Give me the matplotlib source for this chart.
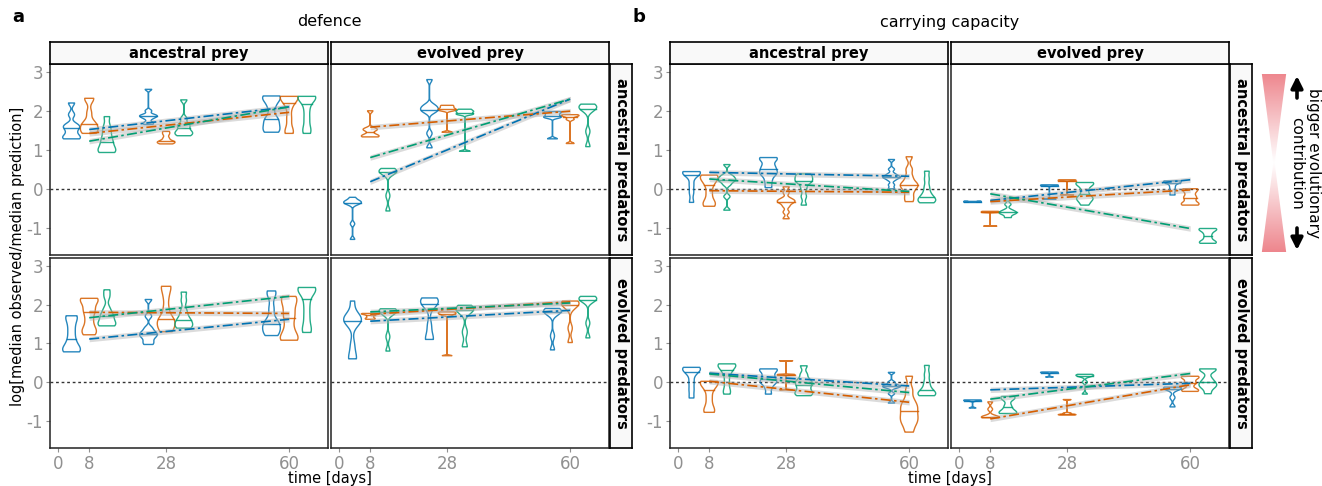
import numpy as np
import matplotlib.pyplot as plt
from matplotlib import cbook, mlab
from matplotlib.patches import Polygon
from matplotlib.colors import LinearSegmentedColormap

plt.rcParams['axes.unicode_minus'] = False

# strains: blue, orange, green ; sampling days
colours = ['#0072B2', '#D55E00', '#009E73']
times = [8, 28, 60]
dodge = [-4.6, 0, 4.6]
xticks = [0, 8, 28, 60]
yticks = [-1, 0, 1, 2, 3]

# violins, order: day8 (blue, orange, green), day28 (...), day60 (...)
# defence, ancestral prey, ancestral predators
def_ap_apred = [
    [2.2, 1.9, 1.65, 1.6, 1.55, 1.45, 1.35, 1.3, 1.28],
    [2.32, 2.3, 1.95, 1.7, 1.65, 1.6, 1.5, 1.45, 1.42],
    [1.85, 1.6, 1.45, 1.3, 1.2, 1.1, 1.0, 0.95, 0.93],
    [2.55, 2.0, 1.9, 1.87, 1.85, 1.8, 1.7, 1.65],
    [1.47, 1.4, 1.3, 1.22, 1.2, 1.18, 1.15],
    [2.28, 1.8, 1.65, 1.6, 1.5, 1.45, 1.4, 1.36],
    [2.38, 2.35, 2.3, 2.1, 1.8, 1.75, 1.6, 1.5, 1.45],
    [2.37, 2.36, 2.35, 2.3, 2.1, 1.8, 1.5, 1.42],
    [2.37, 2.36, 2.35, 2.28, 2.05, 1.8, 1.55, 1.42],
]
def_ap_apred_trend = [(1.52, 2.1), (1.42, 1.96), (1.22, 2.1)]

# defence, evolved prey, ancestral predators
def_ep_apred = [
    [-0.22, -0.3, -0.33, -0.35, -0.37, -0.4, -0.9, -1.3],
    [2.0, 1.55, 1.52, 1.5, 1.4, 1.36, 1.34, 1.33],
    [0.52, 0.47, 0.45, 0.42, 0.4, -0.18, -0.57],
    [2.8, 2.15, 2.1, 2.05, 2.0, 1.97, 1.42, 1.05],
    [2.14, 2.1, 2.06, 2.03, 2.0, 1.45],
    [2.04, 2.0, 1.97, 1.93, 1.9, 0.96],
    [1.98, 1.95, 1.9, 1.85, 1.82, 1.28],
    [1.9, 1.88, 1.85, 1.78, 1.16],
    [2.17, 2.13, 2.1, 2.05, 2.02, 1.47, 1.08],
]
def_ep_apred_trend = [(0.18, 2.3), (1.58, 1.99), (0.8, 2.3)]

# defence, ancestral prey, evolved predators
def_ap_epred = [
    [1.71, 1.68, 1.5, 1.3, 1.1, 0.95, 0.85, 0.8, 0.78],
    [2.16, 2.13, 2.1, 1.9, 1.8, 1.6, 1.4, 1.3, 1.22],
    [2.38, 2.2, 1.9, 1.75, 1.7, 1.6, 1.5, 1.48, 1.45],
    [2.13, 1.7, 1.4, 1.3, 1.25, 1.2, 1.15, 1.05, 0.97],
    [2.47, 2.45, 2.2, 1.9, 1.65, 1.6, 1.55, 1.45, 1.35, 1.3],
    [2.32, 2.1, 1.85, 1.7, 1.6, 1.55, 1.48, 1.42, 1.39],
    [2.35, 2.25, 1.9, 1.6, 1.5, 1.45, 1.35, 1.25, 1.2],
    [2.21, 2.15, 2.0, 1.8, 1.64, 1.4, 1.2, 1.1, 1.08],
    [2.44, 2.42, 2.4, 2.3, 2.0, 1.7, 1.4, 1.28],
]
def_ap_epred_trend = [(1.11, 1.62), (1.8, 1.77), (1.66, 2.21)]

# defence, evolved prey, evolved predators
def_ep_epred = [
    [2.09, 1.7, 1.65, 1.6, 1.58, 1.55, 0.96, 0.62, 0.6],
    [1.77, 1.76, 1.75, 1.7, 1.65, 1.62],
    [1.89, 1.86, 1.83, 1.8, 1.78, 1.17, 0.8],
    [2.17, 2.12, 2.08, 2.04, 2.0, 1.46, 1.12, 1.1],
    [1.81, 1.79, 1.77, 1.75, 1.72, 0.68],
    [1.98, 1.88, 1.86, 1.84, 1.29, 0.91],
    [1.9, 1.86, 1.83, 1.8, 1.76, 1.19, 0.83],
    [2.09, 2.07, 2.04, 1.98, 1.92, 1.39, 1.02],
    [2.21, 2.18, 2.15, 2.12, 2.1, 1.52, 1.14],
]
def_ep_epred_trend = [(1.57, 1.85), (1.75, 2.07), (1.81, 2.04)]

# carrying capacity, ancestral prey, ancestral predators
cc_ap_apred = [
    [0.44, 0.43, 0.42, 0.4, 0.3, 0.1, -0.1, -0.35],
    [0.35, 0.32, 0.3, 0.2, 0.1, -0.1, -0.3, -0.4, -0.45],
    [0.62, 0.35, 0.3, 0.25, 0.22, 0.18, 0.1, -0.2, -0.55],
    [0.8, 0.78, 0.75, 0.6, 0.54, 0.45, 0.4, 0.35, 0.2, 0.03],
    [0.05, -0.1, -0.25, -0.3, -0.33, -0.36, -0.45, -0.6, -0.77],
    [0.38, 0.35, 0.3, 0.22, 0.2, 0.15, 0.0, -0.2, -0.42],
    [0.75, 0.5, 0.38, 0.32, 0.3, 0.28, 0.22, 0.1, 0.0],
    [0.82, 0.5, 0.3, 0.15, 0.1, 0.05, -0.05, -0.2, -0.33],
    [0.45, 0.25, 0.05, -0.1, -0.2, -0.25, -0.3, -0.33, -0.36],
]
cc_ap_apred_trend = [(0.42, 0.32), (-0.05, -0.09), (0.25, -0.07)]

# carrying capacity, evolved prey, ancestral predators
cc_ep_apred = [
    [-0.335, -0.33, -0.325],
    [-0.58, -0.59, -0.6, -0.61, -0.96],
    [-0.24, -0.4, -0.55, -0.6, -0.62, -0.65, -0.74],
    [0.1, 0.09, 0.08, 0.07, -0.27],
    [0.23, 0.22, 0.21, 0.2, -0.16],
    [0.16, 0.14, 0.1, -0.05, -0.2, -0.25, -0.3, -0.42],
    [0.2, 0.19, 0.18, 0.15, 0.05, -0.05, -0.16],
    [0.0, -0.02, -0.1, -0.2, -0.25, -0.35, -0.4, -0.42],
    [-1.02, -1.04, -1.06, -1.15, -1.25, -1.35, -1.38, -1.4],
]
cc_ep_apred_trend = [(-0.3, 0.23), (-0.33, -0.03), (-0.13, -1.02)]

# carrying capacity, ancestral prey, evolved predators
cc_ap_epred = [
    [0.38, 0.36, 0.35, 0.3, 0.2, 0.0, -0.2, -0.41],
    [0.02, 0.01, 0.0, -0.1, -0.2, -0.4, -0.6, -0.75, -0.78],
    [0.47, 0.46, 0.44, 0.4, 0.3, 0.2, 0.0, -0.2, -0.31],
    [0.34, 0.33, 0.3, 0.2, 0.13, 0.05, 0.0, -0.03, -0.15, -0.31],
    [0.55, 0.2, 0.19, 0.18, -0.2],
    [0.42, 0.2, 0.05, 0.0, -0.07, -0.15, -0.25, -0.3, -0.35],
    [0.25, 0.0, -0.07, -0.1, -0.12, -0.15, -0.3, -0.54],
    [0.15, -0.2, -0.45, -0.6, -0.67, -0.8, -0.9, -1.0, -1.1, -1.29],
    [0.43, 0.2, 0.0, -0.15, -0.25, -0.3, -0.32, -0.35],
]
cc_ap_epred_trend = [(0.23, -0.1), (0.02, -0.52), (0.21, -0.27)]

# carrying capacity, evolved prey, evolved predators
cc_ep_epred = [
    [-0.46, -0.47, -0.48, -0.67],
    [-0.51, -0.7, -0.88, -0.9, -0.91, -0.92],
    [-0.37, -0.4, -0.45, -0.6, -0.7, -0.78, -0.8, -0.81],
    [0.26, 0.25, 0.24, 0.13],
    [-0.45, -0.8, -0.83, -0.84, -0.85],
    [0.2, 0.18, 0.17, 0.15, 0.0, -0.31],
    [-0.13, -0.14, -0.16, -0.2, -0.4, -0.64],
    [0.15, 0.13, 0.1, 0.0, -0.05, -0.18, -0.22, -0.24],
    [0.34, 0.33, 0.3, 0.1, 0.0, -0.05, -0.1, -0.15, -0.3],
]
cc_ep_epred_trend = [(-0.2, -0.03), (-0.95, -0.07), (-0.44, 0.22)]

W, H = 1322, 486
fig = plt.figure(figsize=(W / 100, H / 100), dpi=100)
GREY = '#909090'


def box(x0, x1, y0, y1):
    return [x0 / W, 1 - y1 / H, (x1 - x0) / W, (y1 - y0) / H]


def nrd0(kde):
    # R's bw.nrd0, a bit narrower
    d = kde.dataset.ravel()
    sd = d.std(ddof=1)
    q75, q25 = np.percentile(d, [75, 25])
    lo = min(sd, (q75 - q25) / 1.34) if q75 > q25 else sd
    return 0.55 * 0.9 * lo * len(d) ** -0.2 / sd


def kde_method(x, coords):
    return mlab.GaussianKDE(x, nrd0).evaluate(coords)


def panel(x0, x1, y0, y1, violins, trends, xlab, ylab):
    ax = fig.add_axes(box(x0, x1, y0, y1))
    ax.set_xlim(-2.2, 70.1)
    ax.set_ylim(-1.7, 3.2)
    ax.axhline(0, color='#333333', lw=1, ls=(0, (2, 2)), zorder=1)
    pos = [t + d for t in times for d in dodge]
    cols = [c for t in times for c in colours]
    stats = cbook.violin_stats([np.array(v) for v in violins], kde_method, points=500)
    wid = 4.6
    parts = ax.violin(stats, positions=pos, widths=wid, showmeans=False,
                      showextrema=False, showmedians=False)
    for body, c in zip(parts['bodies'], cols):
        body.set_facecolor('none')
        body.set_edgecolor(c)
        body.set_alpha(0.85)
        body.set_linewidth(1.0)
    for st, p, c in zip(stats, pos, cols):
        hw = 0.5 * wid * np.interp(st['median'], st['coords'], st['vals']) / st['vals'].max()
        ax.plot([p - hw, p + hw], [st['median']] * 2, color=c, lw=1.0, alpha=0.85)
    for (s, e), c in zip(trends, colours):
        ax.fill_between([8, 60], [s - 0.07, e - 0.07], [s + 0.07, e + 0.07],
                        color='#b0b0b0', alpha=0.45, lw=0, zorder=3)
        ax.plot([8, 60], [s, e], color=c, lw=1.2, ls=(0, (6, 2, 1.5, 2)), zorder=4)
    ax.set_xticks(xticks)
    ax.set_yticks(yticks)
    ax.tick_params(colors=GREY, labelcolor=GREY, labelsize=12, length=3, width=0.8, pad=2)
    if not xlab:
        ax.tick_params(axis='x', length=0, labelbottom=False)
    if not ylab:
        ax.tick_params(axis='y', length=0, labelleft=False)
    for s in ax.spines.values():
        s.set_linewidth(1.1)
        s.set_color('#222222')
    return ax


def strip(x0, x1, y0, y1, text, rot=0):
    ax = fig.add_axes(box(x0, x1, y0, y1))
    ax.set_xticks([])
    ax.set_yticks([])
    ax.set_facecolor('#f9f9f9')
    for s in ax.spines.values():
        s.set_linewidth(1.2)
    ax.text(0.5, 0.5, text, ha='center', va='center', fontweight='bold',
            fontsize=10.5, rotation=rot, transform=ax.transAxes)


rows = [(64, 255), (258, 448)]
for cx, title, letter, data in [
        ((50, 328, 331, 609, 632), 'defence', 'a',
         [[def_ap_apred, def_ap_apred_trend, def_ep_apred, def_ep_apred_trend],
          [def_ap_epred, def_ap_epred_trend, def_ep_epred, def_ep_epred_trend]]),
        ((670, 948, 951, 1229, 1252), 'carrying capacity', 'b',
         [[cc_ap_apred, cc_ap_apred_trend, cc_ep_apred, cc_ep_apred_trend],
          [cc_ap_epred, cc_ap_epred_trend, cc_ep_epred, cc_ep_epred_trend]])]:
    a0, a1, b0, b1, r1 = cx
    for ri, (y0, y1) in enumerate(rows):
        d = data[ri]
        panel(a0, a1, y0, y1, d[0], d[1], ri == 1, True)
        panel(b0, b1, y0, y1, d[2], d[3], ri == 1, False)
        strip(b1 + 1, r1, y0, y1, ['ancestral predators', 'evolved predators'][ri], rot=270)
    strip(a0, a1, 42, 64, 'ancestral prey')
    strip(b0, b1, 42, 64, 'evolved prey')
    mid = (a0 + b1) / 2
    fig.text(mid / W, 1 - 22 / H, title, ha='center', va='center', fontsize=11.5)
    fig.text(mid / W, 1 - 478 / H, 'time [days]', ha='center', va='center', fontsize=10.5)
    fig.text((a0 - 38) / W, 1 - 17 / H, letter, ha='left', va='center',
             fontsize=13, fontweight='bold')

fig.text(18 / W, 1 - 256 / H, 'log[median observed/median prediction]', rotation=90,
         ha='center', va='center', fontsize=10.5)

# legend: hourglass gradient with arrows
lax = fig.add_axes(box(1258, 1290, 74, 252))
lax.axis('off')
grad = np.abs(np.linspace(-1, 1, 200))[:, None] * np.ones((1, 10))
cmap = LinearSegmentedColormap.from_list('wr', ['white', '#ec7a82'])
im = lax.imshow(grad, cmap=cmap, extent=[0, 1, 0, 1], aspect='auto', vmin=0, vmax=1.1)
hour = Polygon([(0.12, 1), (0.88, 1), (0.52, 0.5), (0.88, 0), (0.12, 0), (0.48, 0.5)],
               closed=True, transform=lax.transData, facecolor='none', edgecolor='none')
lax.add_patch(hour)
im.set_clip_path(hour)
lax.set_xlim(0, 1)
lax.set_ylim(0, 1)
arrow = dict(arrowstyle='-|>,head_width=0.35,head_length=0.7', lw=2.6, color='black',
             shrinkA=0, shrinkB=0)
fig.add_artist(plt.Annotation('', xy=(1297, H - 76), xytext=(1297, H - 98),
                              xycoords='figure pixels', textcoords='figure pixels',
                              arrowprops=arrow))
fig.add_artist(plt.Annotation('', xy=(1297, H - 250), xytext=(1297, H - 228),
                              xycoords='figure pixels', textcoords='figure pixels',
                              arrowprops=arrow))
fig.text(1313 / W, 1 - 163 / H, 'bigger evolutionary', rotation=270,
         ha='center', va='center', fontsize=11)
fig.text(1297 / W, 1 - 163 / H, 'contribution', rotation=270,
         ha='center', va='center', fontsize=11)

fig.savefig('out.png', dpi=100)
